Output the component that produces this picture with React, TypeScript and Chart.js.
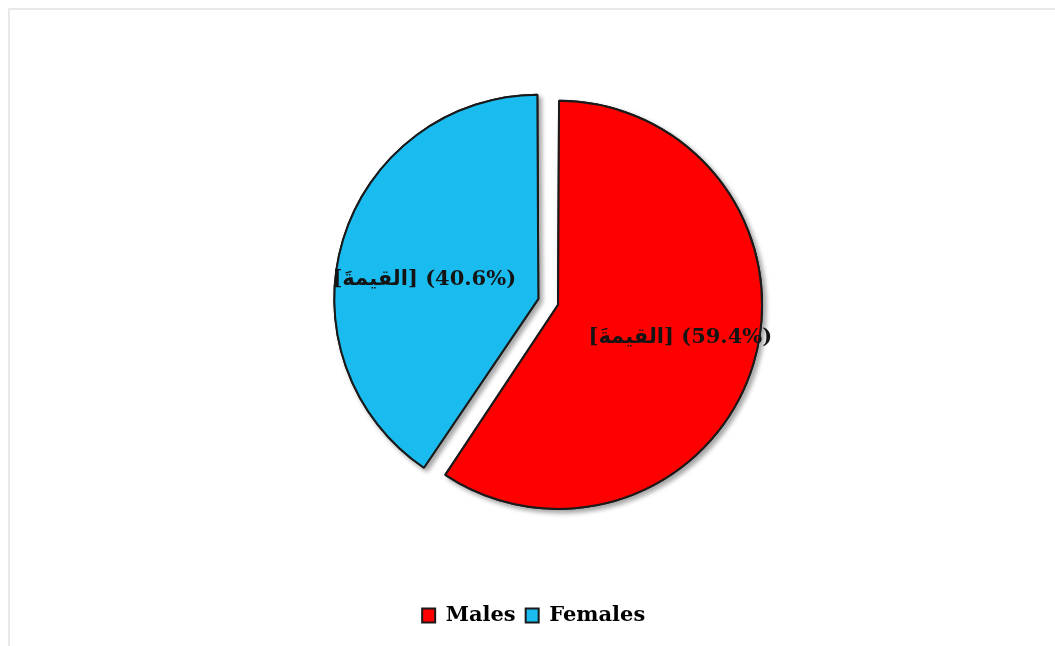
import { useEffect, useRef } from 'react';
import { Chart, registerables } from 'chart.js';

Chart.register(...registerables);

// Pie data: share of respondents by sex
const categories = ['Males', 'Females'];
const shares = [59.4, 40.6];
const sliceColors = ['#ff0000', '#1abcf0'];
const sliceOffsets = [25.3, 57.1];
const valueWord = 'القيمةَ';

const SERIF = '"DejaVu Serif", "DejaVu Sans", serif';

// Translation Chart.js applies to an exploded arc when it draws it
function sliceShift(arc: any) {
  const d = (arc.options.offset || 0) / 4;
  const mid = (arc.startAngle + arc.endAngle) / 2;
  return { dx: Math.cos(mid) * d, dy: Math.sin(mid) * d, mid };
}

// Soft drop shadow: a first pass with shadow, then the normal pass covers the interior
const sliceShadow = {
  id: 'sliceShadow',
  beforeDatasetsDraw(chart: any) {
    const c = chart.ctx;
    const meta = chart.getDatasetMeta(0);
    c.save();
    c.shadowColor = 'rgba(0,0,0,0.35)';
    c.shadowBlur = 5;
    c.shadowOffsetX = 3;
    c.shadowOffsetY = 3;
    meta.data.forEach((arc: any) => arc.draw(c));
    c.restore();
  },
};

const sliceLabels = {
  id: 'sliceLabels',
  afterDraw(chart: any, _args: any, opts: any) {
    const meta = chart.getDatasetMeta(0);
    const ctx = chart.ctx;
    ctx.save();
    ctx.font = `bold 21px ${SERIF}`;
    ctx.fillStyle = '#141414';
    ctx.textAlign = 'center';
    ctx.textBaseline = 'middle';
    meta.data.forEach((arc: any, i: number) => {
      const { dx, dy, mid } = sliceShift(arc);
      const r = arc.outerRadius * opts.radial[i];
      const a = mid + (opts.turn[i] * Math.PI) / 180;
      const x = arc.x + dx + Math.cos(a) * r;
      const y = arc.y + dy + Math.sin(a) * r;
      const text = `[${valueWord}\u200E] (${shares[i].toFixed(1)}%)`;
      ctx.fillText(text, x, y);
    });
    ctx.restore();
  },
};

export default function App() {
  const canvasRef = useRef<HTMLCanvasElement | null>(null);

  useEffect(() => {
    if (!canvasRef.current) return;
    const chart = new Chart(canvasRef.current, {
      type: 'pie',
      data: {
        labels: categories,
        datasets: [
          {
            data: shares,
            backgroundColor: sliceColors,
            borderColor: '#1a1a1a',
            borderWidth: 2,
            offset: sliceOffsets,
          },
        ],
      },
      options: {
        responsive: false,
        animation: false,
        radius: 197.7,
        layout: { padding: { left: 39, right: 0, top: 1, bottom: 10 } },
        plugins: {
          tooltip: { enabled: false },
          legend: {
            position: 'bottom',
            labels: {
              boxWidth: 13,
              boxHeight: 14,
              padding: 10,
              color: '#000',
              font: { family: SERIF, size: 21, weight: 'bold' },
              generateLabels: (chart: any) => {
                const items = Chart.overrides.pie.plugins.legend.labels.generateLabels(chart);
                // trailing gap after the last entry
                items[items.length - 1].text += '     ';
                return items;
              },
            },
          },
          sliceLabels: { radial: [0.64, 0.585], turn: [-2.0, -7.5] },
        } as any,
      },
      plugins: [sliceShadow, sliceLabels],
    });
    return () => chart.destroy();
  }, []);

  return (
    <div
      style={{
        position: 'fixed',
        left: 8,
        top: 8,
        width: 1047,
        height: 638,
        boxSizing: 'border-box',
        borderLeft: '2px solid #e8e8e8',
        borderTop: '2px solid #e8e8e8',
        background: '#fff',
      }}
    >
      <canvas ref={canvasRef} width={1045} height={636} style={{ display: 'block' }} />
    </div>
  );
}
